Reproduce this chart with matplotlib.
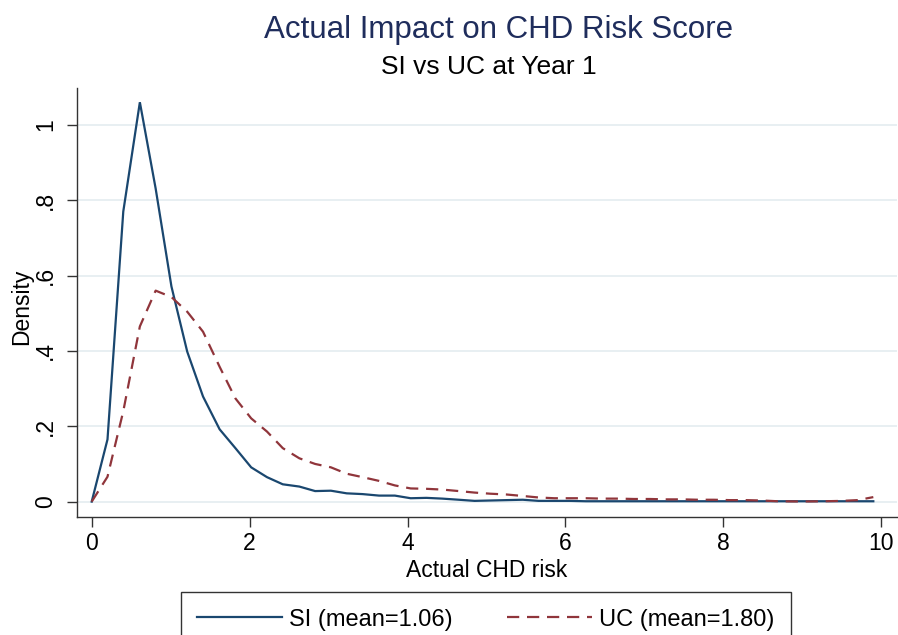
import matplotlib
matplotlib.use("Agg")
import matplotlib.pyplot as plt
from matplotlib.lines import Line2D

# ---- data ----
risk = [0.00, 0.20, 0.40, 0.61, 0.81, 1.01, 1.21, 1.41, 1.62, 1.82,
        2.02, 2.22, 2.42, 2.63, 2.83, 3.03, 3.23, 3.43, 3.64, 3.84,
        4.04, 4.24, 4.44, 4.65, 4.85, 5.05, 5.25, 5.46, 5.66, 5.86,
        6.06, 6.26, 6.47, 6.67, 6.87, 7.07, 7.27, 7.48, 7.68, 7.88,
        8.08, 8.28, 8.49, 8.69, 8.89, 9.09, 9.29, 9.50, 9.70, 9.90]

si_density = [0.000, 0.165, 0.770, 1.060, 0.831, 0.571, 0.398, 0.279, 0.192, 0.142,
              0.091, 0.065, 0.046, 0.040, 0.028, 0.029, 0.022, 0.020, 0.016, 0.016,
              0.009, 0.010, 0.008, 0.005, 0.002, 0.003, 0.004, 0.005, 0.002, 0.002,
              0.002, 0.001, 0.001, 0.001, 0.001, 0.001, 0.001, 0.001, 0.001, 0.001,
              0.001, 0.001, 0.001, 0.001, 0.001, 0.001, 0.001, 0.001, 0.001, 0.001]

uc_density = [0.000, 0.066, 0.240, 0.465, 0.560, 0.543, 0.504, 0.451, 0.358, 0.274,
              0.221, 0.186, 0.142, 0.115, 0.100, 0.091, 0.074, 0.065, 0.055, 0.043,
              0.035, 0.034, 0.032, 0.028, 0.024, 0.021, 0.019, 0.015, 0.011, 0.009,
              0.009, 0.009, 0.008, 0.008, 0.007, 0.007, 0.006, 0.006, 0.005, 0.005,
              0.004, 0.004, 0.003, 0.001, 0.0005, 0.0005, 0.001, 0.002, 0.004, 0.012]

x_ticks = [0, 2, 4, 6, 8, 10]
y_ticks = [0, 0.2, 0.4, 0.6, 0.8, 1.0]
y_tick_labels = ["0", ".2", ".4", ".6", ".8", "1"]

title = "Actual Impact on CHD Risk Score"
subtitle = "SI vs UC at Year 1"
x_label = "Actual CHD risk"
y_label = "Density"
legend_labels = ["SI (mean=1.06)", "UC (mean=1.80)"]

# ---- styling ----
plt.rcParams["font.family"] = ["Liberation Sans", "DejaVu Sans"]
SI_COLOR = "#1a476f"
UC_COLOR = "#90353b"
GRID_COLOR = "#e6eef1"
TITLE_COLOR = "#1f2d5c"

W, H = 898, 635
fig = plt.figure(figsize=(W / 100, H / 100), dpi=100)
ax = fig.add_axes([76.7 / W, 1 - 516.7 / H, (897 - 76.7) / W, (516.7 - 88.3) / H])

ax.plot(risk, si_density, color=SI_COLOR, lw=1.6, solid_joinstyle="miter")
ax.plot(risk, uc_density, color=UC_COLOR, lw=1.6, dashes=(5.5, 3.5))

ax.set_xlim(-0.19, 10.2)
ax.set_ylim(-0.04, 1.097)

ax.set_xticks(x_ticks)
ax.set_yticks(y_ticks)
ax.set_yticklabels(y_tick_labels, rotation=90, va="center")
ax.tick_params(axis="both", labelsize=16.5, length=7, width=1, color="#333333")
ax.tick_params(axis="y", pad=7)
ax.tick_params(axis="x", pad=4)

ax.grid(axis="y", color=GRID_COLOR, lw=1.3)
ax.set_axisbelow(True)
for s in ["top", "right"]:
    ax.spines[s].set_visible(False)
for s in ["left", "bottom"]:
    ax.spines[s].set_color("#333333")
    ax.spines[s].set_linewidth(1.0)

ax.set_xlabel(x_label, fontsize=16.5, labelpad=3)
ax.set_ylabel(y_label, fontsize=16.5, va="center")
ax.yaxis.set_label_coords((22 - 76.7) / (897 - 76.7), 0.49)

fig.text(499 / W, 1 - 30 / H, title, ha="center", va="center",
         fontsize=22.5, color=TITLE_COLOR)
fig.text(489 / W, 1 - 67 / H, subtitle, ha="center", va="center",
         fontsize=19, color="black")

handles = [Line2D([], [], color=SI_COLOR, lw=1.6),
           Line2D([], [], color=UC_COLOR, lw=1.6, dashes=(5.5, 3.5))]
leg = fig.legend(handles, legend_labels, loc="upper center",
                 bbox_to_anchor=(486 / W, 1 - 592 / H), ncol=2,
                 fontsize=17, frameon=True, fancybox=False,
                 edgecolor="black", handlelength=3.6, handletextpad=0.3,
                 columnspacing=2.3, borderpad=0.7, borderaxespad=0)
leg.get_frame().set_linewidth(1.0)

fig.savefig("out.png", dpi=100)
